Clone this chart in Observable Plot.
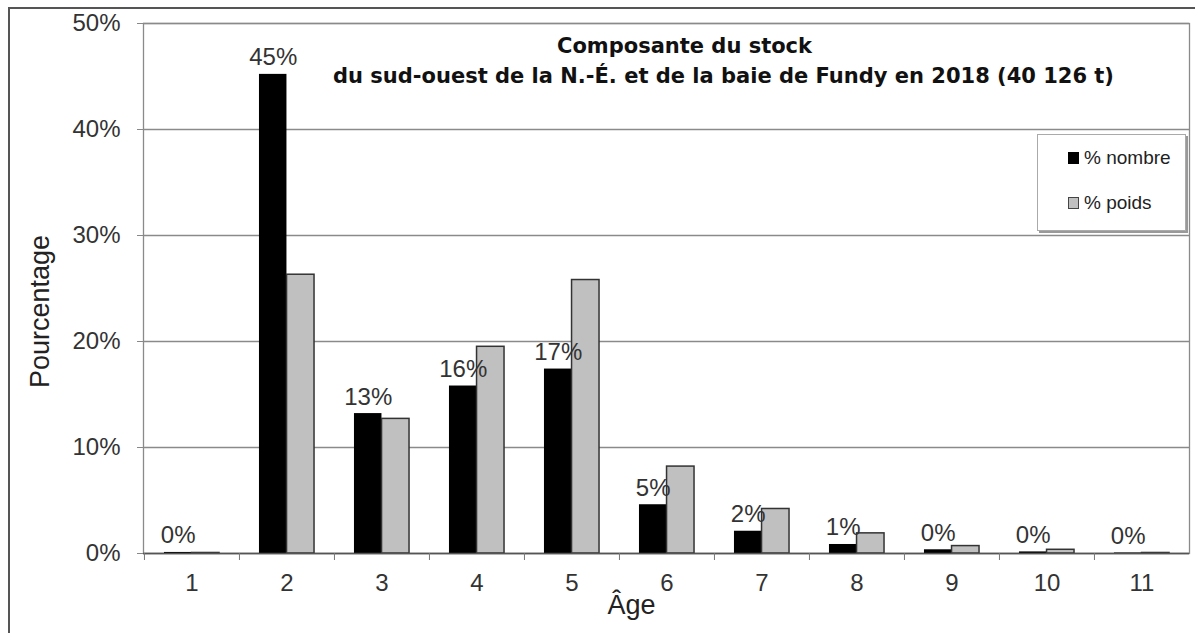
<!DOCTYPE html>
<html>
<head>
<meta charset="utf-8">
<script src="https://cdn.jsdelivr.net/npm/d3@7"></script>
<script src="https://cdn.jsdelivr.net/npm/@observablehq/plot@0.6"></script>
<style>
  html, body { margin: 0; padding: 0; background: #fff; overflow: hidden; }
  #wrap { position: relative; width: 1195px; height: 633px; overflow: hidden; font-family: "Liberation Sans", Arial, sans-serif; }
  #frame { position: absolute; left: 8px; top: 7px; width: 1200px; height: 700px; border: 2px solid #555; box-sizing: border-box; pointer-events: none; }
  #chart { position: absolute; left: 0; top: 0; }
  #legend { position: absolute; left: 1037px; top: 134px; width: 149px; height: 97px; background: #fff;
            border: 1px solid #aaa; box-shadow: 2px 2px 0 #999; box-sizing: border-box; }
  .item { position: absolute; left: 30px; font-size: 19px; color: #222; display: flex; align-items: center; }
  .sw { width: 11px; height: 12px; margin-right: 5px; box-sizing: border-box; }
</style>
</head>
<body>
<div id="wrap">
  <div id="chart"></div>
  <div id="frame"></div>
  <div id="legend"></div>
</div>
<script>
const ages = [1, 2, 3, 4, 5, 6, 7, 8, 9, 10, 11];
const pctNombre = [0.1, 45.2, 13.2, 15.8, 17.4, 4.6, 2.1, 0.85, 0.35, 0.15, 0.05];
const pctPoids  = [0.05, 26.3, 12.7, 19.5, 25.8, 8.2, 4.2, 1.9, 0.7, 0.35, 0.05];
const yTicks = [0, 10, 20, 30, 40, 50];
const seriesNames = ["% nombre", "% poids"];
const seriesColors = ["#000000", "#c0c0c0"];
const titleLines = ["Composante du stock", "du sud-ouest de la N.-É. et de la baie de Fundy en 2018 (40 126 t)"];

const rows = ages.map((a, i) => ({age: a, nombre: pctNombre[i], poids: pctPoids[i]}));

const W = 1195, H = 633;
const mL = 143, mR = 6, mT = 23, mB = 80;
const step = (W - mL - mR) / ages.length;
const barW = step * 0.29;
const pad = (step - 2 * barW) / 2;

const plot = Plot.plot({
  width: W,
  height: H,
  marginLeft: mL,
  marginRight: mR,
  marginTop: mT,
  marginBottom: mB,
  style: {fontFamily: "Liberation Sans, Arial, sans-serif", background: "transparent"},
  x: {type: "band", domain: ages, padding: 0},
  y: {domain: [0, 50], ticks: yTicks},
  marks: [
    Plot.gridY(yTicks, {stroke: "#8a8a8a", strokeOpacity: 1, strokeWidth: 1.3}),
    Plot.frame({stroke: "#8a8a8a", strokeWidth: 1.3}),
    Plot.barY(rows, {x: "age", y: "nombre", fill: seriesColors[0], insetLeft: pad, insetRight: pad + barW}),
    Plot.barY(rows, {x: "age", y: "poids", fill: seriesColors[1], stroke: "#333", strokeWidth: 1.5, insetLeft: pad + barW, insetRight: pad}),
    Plot.ruleY([0], {stroke: "#555", strokeWidth: 1.5}),
    Plot.text(rows, {x: "age", y: "nombre", text: d => Math.round(d.nombre) + "%", dx: -barW / 2, dy: -9,
      lineAnchor: "bottom", fontSize: 24, fill: "#333"}),
    Plot.axisY(yTicks, {tickFormat: d => d + "%", tickSize: 6, tickPadding: 17, fontSize: 24, color: "#333", stroke: "#888", label: null}),
    Plot.axisX({tickSize: 0, tickPadding: 20, fontSize: 24, color: "#333", label: null}),
    Plot.axisX({tickSize: 7, tickFormat: () => "", dx: -step / 2, stroke: "#777", label: null}),
    Plot.text(["Pourcentage"], {frameAnchor: "left", textAnchor: "middle", lineAnchor: "middle", dx: -103, dy: 23, rotate: -90, fontSize: 27, fill: "#222"}),
    Plot.text(["Âge"], {frameAnchor: "bottom", lineAnchor: "middle", dx: -35, dy: 52, fontSize: 27, fill: "#222"}),
    Plot.text([titleLines[0]], {frameAnchor: "top", lineAnchor: "middle", dx: 18, dy: 23, fontSize: 21, fontWeight: "bold", fill: "#111", fontFamily: "DejaVu Sans"}),
    Plot.text([titleLines[1]], {frameAnchor: "top", lineAnchor: "middle", dx: 57, dy: 53, fontSize: 21, fontWeight: "bold", fill: "#111", fontFamily: "DejaVu Sans"})
  ]
});
document.getElementById("chart").appendChild(plot);

const legend = document.getElementById("legend");
seriesNames.forEach((name, i) => {
  const it = document.createElement("div");
  it.className = "item";
  it.style.top = (i === 0 ? 12 : 57) + "px";
  const sw = document.createElement("div");
  sw.className = "sw";
  sw.style.background = seriesColors[i];
  sw.style.border = i === 0 ? "none" : "1.5px solid #444";
  it.appendChild(sw);
  const t = document.createElement("span");
  t.textContent = name;
  it.appendChild(t);
  legend.appendChild(it);
});
</script>
</body>
</html>
